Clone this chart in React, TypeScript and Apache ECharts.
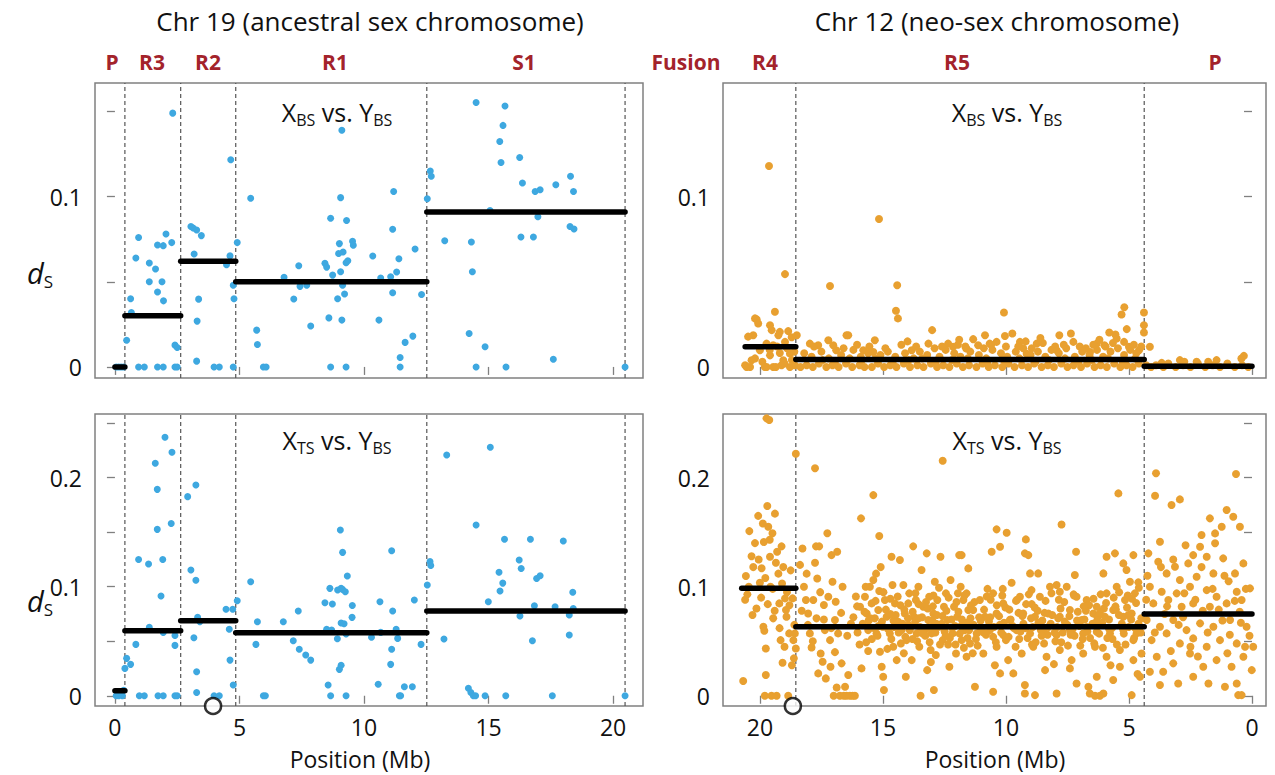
import React, { useEffect, useRef } from "react";
import * as echarts from "echarts";

// ---------- DATA ----------
// Chr 19, X_BS vs Y_BS (position Mb, dS)
const tlPoints: number[][] = [
  [0.05, 0], [0.15, 0], [0.25, 0], [0.35, 0],
  [0.47, 0.0157], [0.63, 0.04], [0.66, 0.032], [0.84, 0.064], [0.95, 0.076], [0.95, 0], [1.18, 0],
  [1.38, 0.061], [1.38, 0.05], [1.63, 0.0575], [1.71, 0.0716], [1.71, 0.044], [1.71, 0], [1.89, 0.05],
  [1.94, 0.0712], [1.95, 0.0388], [1.94, 0], [2.05, 0.078], [2.28, 0.073], [2.32, 0.149], [2.41, 0.0128],
  [2.5, 0.0114], [2.41, 0], [2.5, 0],
  [3.05, 0.0824], [3.14, 0.0816], [3.28, 0.0804], [3.47, 0.0771], [3.18, 0.0663], [3.3, 0.0269], [3.36, 0.0398],
  [3.28, 0.0034], [3.98, 0], [4.19, 0], [4.65, 0.1216], [4.48, 0.06], [4.62, 0.0652], [4.75, 0], [4.75, 0.048],
  [4.78, 0.04], [4.91, 0.073],
  [5.45, 0.099], [5.69, 0.0216], [5.72, 0.0132], [5.96, 0], [6.07, 0], [6.79, 0.0526], [7.18, 0.0399],
  [7.38, 0.0594], [7.43, 0.0473], [7.7, 0.048], [7.86, 0.024], [8.43, 0.0608], [8.5, 0.0586], [8.59, 0.0288],
  [8.66, 0], [8.66, 0.0873], [8.74, 0.0539], [9.01, 0.0724], [8.98, 0.0666], [9.06, 0.0559], [9.06, 0.0994],
  [9.11, 0.139], [9.11, 0.0275], [9.14, 0.048], [9.16, 0.0675], [9.22, 0.0428], [9.28, 0.0612], [9.28, 0],
  [9.3, 0.086], [8.94, 0.04], [9.35, 0.0623], [9.54, 0.0738], [9.57, 0.0714], [10.35, 0.0651], [10.6, 0.0275],
  [10.67, 0.0522], [11.07, 0.0529], [11.15, 0.0808], [11.19, 0.103], [11.15, 0.0436], [11.31, 0.0557],
  [11.4, 0.0635], [11.45, 0.0055], [11.45, 0], [11.65, 0.0144], [11.96, 0.0181], [12.05, 0.0692], [12.31, 0.0425],
  [12.54, 0.0987], [12.66, 0.115], [12.7, 0.112], [14.5, 0.1553], [15.66, 0.1532], [15.58, 0.1418],
  [15.45, 0.1324], [15.5, 0.12], [16.25, 0.123], [16.36, 0.108], [16.87, 0.103], [17.07, 0.104], [17.7, 0.107],
  [18.29, 0.112], [18.41, 0.103], [15.06, 0.0918], [16.98, 0.0882], [18.27, 0.0824], [18.43, 0.081],
  [13.24, 0.0741], [14.31, 0.0733], [16.3, 0.0763], [16.8, 0.0763], [14.35, 0.0559], [14.22, 0.0196],
  [14.86, 0.0118], [17.6, 0.0045], [14.5, 0], [15.7, 0], [20.48, 0],
];

// Chr 19, X_TS vs Y_BS
const blPoints: number[][] = [
  [0.05, 0], [0.15, 0], [0.3, 0], [0.35, 0.005],
  [0.4, 0.0251], [0.47, 0.0343], [0.63, 0.0288], [0.84, 0.0471], [0.95, 0.125], [0.98, 0], [1.18, 0],
  [1.35, 0.1208], [1.38, 0.0627], [1.62, 0.2132], [1.7, 0.1893], [1.7, 0.1526], [1.73, 0], [1.85, 0.0915],
  [1.92, 0.125], [1.94, 0.0581], [1.94, 0], [2.01, 0.237], [2.26, 0.158], [2.29, 0.2233], [2.41, 0.0553],
  [2.41, 0.0462], [2.41, 0], [2.5, 0],
  [2.92, 0.1826], [3.05, 0.1153], [3.25, 0.1933], [3.25, 0.106], [3.17, 0.0532], [3.32, 0.0719], [3.28, 0.022],
  [3.28, 0.003], [3.41, 0.068], [3.98, 0], [4.19, 0], [4.46, 0.0793], [4.59, 0.061], [4.62, 0.0327],
  [4.73, 0.0793], [4.75, 0.0098], [4.91, 0.0872],
  [5.45, 0.1046], [5.66, 0.0471], [5.72, 0.0679], [5.96, 0], [6.04, 0], [6.76, 0.0679], [7.16, 0.0505],
  [7.36, 0.0777], [7.4, 0.0426], [7.66, 0.0374], [7.86, 0.0327], [8.43, 0.0853], [8.63, 0.0985], [8.73, 0.0841],
  [8.56, 0.0098], [8.66, 0], [8.5, 0.061], [8.7, 0.0603], [8.93, 0.0523], [9.01, 0.0242], [9.08, 0.028],
  [8.94, 0.097], [9.08, 0.0985], [9.14, 0.0975], [9.05, 0.152], [9.14, 0.1315], [9.33, 0.1098], [9.25, 0.0953],
  [9.08, 0.0667], [9.2, 0.066], [9.28, 0.0566], [9.28, 0], [9.53, 0.0828], [9.52, 0.0719], [10.3, 0.0536],
  [10.57, 0.0106], [10.64, 0.0862], [10.67, 0.0581], [11.07, 0.0288], [11.11, 0.133], [11.15, 0.0777],
  [11.11, 0.0426], [11.29, 0.061], [11.35, 0.0526], [11.42, 0], [11.47, 0], [11.62, 0.0083], [11.94, 0.0083],
  [12.02, 0.0878], [12.29, 0.0471],
  [12.54, 0.1016], [12.65, 0.123], [12.68, 0.1194], [13.32, 0.2208], [15.07, 0.2279], [14.5, 0.1566],
  [15.64, 0.1435], [16.68, 0.1435], [18.0, 0.142], [16.23, 0.1245], [16.31, 0.1167], [15.42, 0.1132],
  [15.57, 0.1033], [15.46, 0.096], [16.93, 0.1075], [17.07, 0.11], [18.38, 0.095], [14.99, 0.0862],
  [16.84, 0.0826], [17.67, 0.0817], [18.4, 0.0801], [16.26, 0.0731], [18.24, 0.074], [13.21, 0.052],
  [18.24, 0.0557], [16.76, 0.0504], [14.19, 0.0068], [14.29, 0.003], [14.39, 0], [14.48, 0], [14.86, 0],
  [15.69, 0], [17.56, 0], [20.48, 0],
];

// Chr 12, X_BS vs Y_BS
const trPoints: number[][] = [
  [19.63, 0.118], [18.98, 0.0545], [19.39, 0.0324], [20.13, 0.0279], [17.15, 0.0475], [15.16, 0.0869],
  [14.42, 0.048], [14.47, 0.033], [14.39, 0.0285], [13.0, 0.0216], [16.41, 0.0186], [15.33, 0.0157],
  [10.08, 0.032], [5.19, 0.035], [5.3, 0.0308], [4.39, 0.032], [4.39, 0.0245], [4.39, 0.0202], [5.09, 0.0222],
  [5.8, 0.0202], [7.83, 0.0186], [7.36, 0.0196], [9.74, 0.0196], [10.04, 0.0182], [0.33, 0.0065], [2.93, 0.004],
  [20.2, 0.0285], [20.07, 0.0255], [19.59, 0.0245], [19.52, 0.0216], [19.19, 0.0206], [18.85, 0.021],
  [19.25, 0.0186], [20.27, 0.0186], [20.48, 0.0178], [18.71, 0.0174], [18.5, 0.0186], [19.73, 0.0137],
  [19.46, 0.0127], [18.98, 0.0147], [20.0, 0.0098], [19.19, 0.0082], [18.78, 0.0078], [19.59, 0.0068],
  [20.34, 0.0039], [19.05, 0.0039], [20.54, 0], [19.73, 0], [19.46, 0], [19.12, 0.001], [18.78, 0], [18.58, 0.001],
  [20.6, 0.001], [20.4, 0], [20.2, 0.005], [19.9, 0.003], [19.8, 0], [19.6, 0.01], [19.35, 0], [19.3, 0.012],
  [19.0, 0.002], [18.9, 0.011], [18.7, 0.004], [18.6, 0.009],
  [16.48, 0.0186], [17.22, 0.0157], [17.63, 0.0127], [17.02, 0.0127], [17.97, 0.0137], [16.9, 0.0098],
  [15.8, 0.0098], [15.39, 0.0088], [13.83, 0.0098], [13.15, 0.0137], [12.35, 0.0137], [12.15, 0.0118],
  [11.61, 0.0108], [11.13, 0.0127], [10.66, 0.0137], [11.33, 0.0163], [10.85, 0.0186],
  [10.38, 0.0147], [9.43, 0.0147], [8.75, 0.0137], [7.26, 0.0147], [6.31, 0.0137], [6.0, 0.0127], [5.5, 0.0167],
  [5.2, 0.0147], [5.0, 0.0118], [6.58, 0.0088], [7.94, 0.0098], [9.16, 0.0078], [4.59, 0.0098], [4.15, 0.0118],
  [18.35, 0], [18.1, 0.001], [17.85, 0], [17.6, 0.002], [17.3, 0], [17.05, 0.001], [16.8, 0], [16.5, 0.002],
  [16.25, 0], [15.95, 0.001], [15.75, 0], [15.45, 0], [15.2, 0.002], [14.95, 0], [14.7, 0.001], [14.45, 0],
  [14.15, 0.002], [13.9, 0], [13.6, 0.001], [13.35, 0], [13.05, 0.002], [12.8, 0], [12.55, 0.001], [12.3, 0],
  [12.0, 0.002], [11.75, 0], [11.5, 0.001], [11.2, 0], [10.95, 0.002], [10.7, 0], [10.45, 0.001], [10.15, 0],
  [9.9, 0.002], [9.65, 0], [9.35, 0.001], [9.1, 0], [8.85, 0.002], [8.55, 0], [8.3, 0.001], [8.05, 0],
  [7.75, 0.002], [7.5, 0], [7.25, 0.001], [6.95, 0], [6.7, 0.002], [6.4, 0], [6.15, 0.001], [5.9, 0],
  [5.6, 0.002], [5.35, 0], [5.1, 0.001], [4.85, 0], [4.6, 0.002],
  [18.2, 0.008], [17.9, 0.006], [17.5, 0.009], [17.2, 0.005], [16.7, 0.007], [16.2, 0.01], [15.9, 0.006],
  [15.6, 0.008], [15.1, 0.007], [14.8, 0.009], [14.5, 0.006], [14.1, 0.008], [13.75, 0.005], [13.5, 0.009],
  [13.2, 0.007], [12.7, 0.006], [12.45, 0.01], [12.1, 0.008], [11.85, 0.006], [11.45, 0.009], [11.1, 0.007],
  [10.8, 0.005], [10.55, 0.01], [10.2, 0.008], [9.95, 0.006], [9.6, 0.009], [9.3, 0.011], [9.0, 0.007],
  [8.7, 0.009], [8.4, 0.006], [8.15, 0.01], [7.85, 0.008], [7.55, 0.011], [7.2, 0.006], [6.9, 0.009],
  [6.6, 0.007], [6.3, 0.01], [6.05, 0.006], [5.75, 0.009], [5.45, 0.011], [5.2, 0.007], [4.95, 0.01],
  [4.7, 0.008], [4.5, 0.012],
  [17.8, 0.012], [16.6, 0.011], [16.05, 0.013], [15.55, 0.012], [14.9, 0.011], [14.25, 0.013], [13.65, 0.012],
  [12.9, 0.011], [12.6, 0.012], [11.95, 0.013], [11.65, 0.012], [10.9, 0.011], [10.6, 0.013], [10.0, 0.012],
  [9.5, 0.012], [8.95, 0.011], [8.5, 0.014], [8.0, 0.012], [7.65, 0.013], [7.0, 0.012], [6.75, 0.011],
  [6.45, 0.013], [5.95, 0.012], [5.65, 0.014], [4.8, 0.013],
  [3.67, 0.0024], [2.75, 0.003], [2.25, 0.003], [1.78, 0.003], [1.44, 0.004], [0.43, 0.0049],
  [4.3, 0.001], [4.1, 0], [3.9, 0.001], [3.6, 0], [3.4, 0.002], [3.1, 0], [2.8, 0.001], [2.5, 0], [2.2, 0.002],
  [1.9, 0], [1.6, 0.001], [1.3, 0], [1.0, 0.002], [0.7, 0], [0.4, 0.001], [0.15, 0],
  [17.45, 0.004], [16.95, 0.003], [16.35, 0.005], [15.85, 0.004], [15.3, 0.005], [14.6, 0.003], [13.95, 0.004],
  [13.4, 0.005], [12.85, 0.003], [12.2, 0.004], [11.55, 0.005], [10.75, 0.003], [10.1, 0.004], [9.45, 0.005],
  [8.8, 0.003], [8.25, 0.004], [7.6, 0.005], [7.05, 0.003], [6.5, 0.004], [5.85, 0.005], [5.25, 0.003],
  [4.75, 0.005], [5.55, 0.019], [6.2, 0.016], [8.6, 0.017], [9.2, 0.015], [11.9, 0.016], [14.0, 0.015],
];

// Chr 12, X_TS vs Y_BS
const brPoints: number[][] = [
  [19.73, 0.2544], [19.62, 0.2529], [20.68, 0.0135], [20.57, 0.1098], [20.51, 0.093], [20.43, 0.151],
  [20.34, 0.128], [20.27, 0.118], [20.14, 0.08], [20.07, 0.165], [20.0, 0.1037], [19.93, 0.117], [19.86, 0.0633],
  [19.84, 0.141], [19.82, 0.0596], [19.8, 0], [19.76, 0.0434], [19.76, 0.019], [19.7, 0.174], [19.66, 0.155],
  [19.59, 0.1275], [19.57, 0.1], [19.53, 0], [19.49, 0.149], [19.46, 0.071], [19.39, 0.167], [19.35, 0.122],
  [19.32, 0], [19.25, 0.112], [19.21, 0.0847], [19.16, 0.051], [19.12, 0.137], [19.08, 0.0303], [19.05, 0.118],
  [18.98, 0.0893], [18.94, 0.0786], [18.92, 0.0725], [18.85, 0], [18.81, 0.0572], [18.75, 0.115],
  [18.67, 0.0893], [18.64, 0.051], [18.62, 0.0343], [18.58, 0.0572], [18.54, 0.222], [18.54, 0.0434],
  [20.6, 0.088], [20.45, 0.1], [20.3, 0.074], [20.2, 0.14], [20.05, 0.125], [19.95, 0.09], [19.88, 0.158],
  [19.78, 0.108], [19.68, 0.084], [19.6, 0.143], [19.48, 0.098], [19.4, 0.078], [19.3, 0.132], [19.2, 0.062],
  [19.1, 0.103], [19.0, 0.045], [18.9, 0.095], [18.8, 0.083], [18.7, 0.028], [18.6, 0.065],
  [17.76, 0.2086], [15.89, 0.1627], [15.39, 0.184], [15.15, 0.1465], [12.57, 0.2156],
  [18.37, 0.12], [18.27, 0.135], [18.21, 0.1], [18.13, 0.0878], [18.1, 0.112], [18.04, 0.0755], [17.97, 0.0572],
  [17.9, 0.0443], [17.83, 0.0878], [17.76, 0.122], [17.72, 0.137], [17.7, 0.071], [17.67, 0.1076],
  [17.63, 0.0205], [17.59, 0.137], [17.53, 0.0388], [17.45, 0.0312], [17.4, 0.0832], [17.36, 0.0602],
  [17.32, 0.0159], [17.26, 0.149], [17.22, 0.0908], [17.15, 0.051], [17.13, 0.0266], [17.09, 0.129],
  [17.05, 0.1046], [17.0, 0], [16.95, 0.0694], [16.92, 0.0862], [16.88, 0.0076], [16.86, 0.132], [16.82, 0.0572],
  [16.75, 0], [16.68, 0.0297], [16.64, 0.1], [16.59, 0], [16.54, 0.0083], [16.48, 0], [16.41, 0.019],
  [16.34, 0], [16.23, 0], [16.14, 0], [15.93, 0.0817], [15.87, 0.0251], [15.73, 0.0908], [15.66, 0.0755],
  [15.6, 0.0602], [15.53, 0.1], [15.46, 0.0847], [15.39, 0.1061], [15.33, 0.071], [15.28, 0.112],
  [15.26, 0.0572], [15.19, 0.0786], [15.12, 0.0404], [15.09, 0.118], [15.05, 0.0266], [15.01, 0.0633],
  [14.99, 0.0174], [14.96, 0.0052], [14.92, 0.0878], [14.85, 0.0725], [14.72, 0.0572], [14.65, 0.1275],
  [14.61, 0.1015], [14.58, 0.045], [14.51, 0.0847], [14.44, 0.0327], [14.38, 0.0679], [14.31, 0.1245],
  [14.24, 0.0602], [14.17, 0.1015], [14.11, 0.0755], [14.07, 0.0174], [14.04, 0.051], [13.97, 0.0847],
  [13.93, 0.0939], [13.88, 0.0633], [13.83, 0.0327], [13.77, 0.137], [13.74, 0.0725], [13.66, 0.0878],
  [13.63, 0.0572], [13.56, 0.1], [13.52, 0.045], [13.47, 0], [13.43, 0.1153], [13.36, 0.0817], [13.29, 0.0602],
  [13.22, 0.1306], [13.2, 0.0235], [13.16, 0.0694], [13.12, 0.0908], [13.06, 0.0419], [13.02, 0.0572],
  [12.95, 0.0755], [12.93, 0.0052], [12.89, 0.1046], [12.85, 0.0373], [12.79, 0.0878], [12.71, 0.0633],
  [12.66, 0.1275], [12.57, 0.051], [12.52, 0.0817], [12.44, 0.0939], [12.38, 0.0694], [12.3, 0.0266],
  [12.25, 0.1061], [12.17, 0.0572], [12.11, 0.0817], [12.03, 0.0388], [11.98, 0.0725], [11.9, 0.129],
  [11.84, 0.1], [11.8, 0.051], [11.73, 0.0878], [11.67, 0.0602], [11.6, 0.0358], [11.53, 0.0786],
  [5.43, 0.1856], [7.74, 0.157], [10.38, 0.1526], [9.97, 0.1495], [9.19, 0.1434], [10.58, 0.132],
  [10.24, 0.1367], [9.23, 0.1306], [9.09, 0.129], [7.15, 0.132], [5.91, 0.1275], [5.57, 0.1306], [4.82, 0.129],
  [5.23, 0.1214], [11.8, 0.129], [11.53, 0.1168], [9.02, 0.1122], [8.69, 0.1122], [9.77, 0.1037], [7.94, 0.1015],
  [7.2, 0.1107], [6.04, 0.1122], [5.1, 0.1153], [4.96, 0.1046], [11.6, 0.0939], [11.06, 0.0878], [10.52, 0.0939],
  [10.11, 0.0847], [9.43, 0.0908], [8.96, 0.0969], [8.62, 0.0908], [8.21, 0.1], [7.81, 0.0954], [7.53, 0.1],
  [7.13, 0.0908], [6.72, 0.0878], [6.31, 0.0817], [5.91, 0.0939], [5.5, 0.1], [5.16, 0.0878], [4.76, 0.0939],
  [11.33, 0.0786], [10.85, 0.0725], [10.38, 0.0755], [9.84, 0.0694], [9.3, 0.0755], [8.82, 0.0725],
  [8.28, 0.0755], [7.81, 0.0725], [7.4, 0.0786], [6.92, 0.0694], [6.45, 0.0755], [5.98, 0.0725], [5.64, 0.0786],
  [5.23, 0.0725], [4.89, 0.0755],
  [11.73, 0.0602], [11.19, 0.0572], [10.65, 0.0602], [10.11, 0.0557], [9.57, 0.0602], [9.02, 0.0572],
  [8.48, 0.0587], [7.94, 0.0557], [7.4, 0.0602], [6.86, 0.0572], [6.31, 0.0587], [5.77, 0.0572], [5.23, 0.0602],
  [4.69, 0.0572],
  [11.46, 0.048], [10.92, 0.0388], [10.38, 0.045], [9.91, 0.0327], [9.36, 0.0388], [8.89, 0.045], [8.35, 0.0358],
  [7.81, 0.0419], [7.33, 0.0327], [6.86, 0.0388], [6.38, 0.045], [5.91, 0.0358], [5.37, 0.0419], [4.82, 0.0327],
  [11.26, 0.0083], [10.52, 0.0037], [10.24, 0.0205], [9.7, 0.0205], [9.23, 0.0098], [9.23, 0.0021],
  [8.82, 0.0006], [8.41, 0.0235], [7.94, 0.0021], [7.4, 0.0251], [7.13, 0.0113], [6.65, 0.0083], [6.59, 0.0021],
  [6.38, 0], [6.18, 0], [6.04, 0.0021], [5.64, 0.0144], [5.37, 0.0266], [4.89, 0.0006], [4.55, 0.0174],
  [4.49, 0.0388], [4.82, 0.051], [6.31, 0.0174],
  [16.2, 0.072], [16.03, 0.058], [15.82, 0.066], [15.68, 0.049], [15.51, 0.071], [15.37, 0.062], [15.22, 0.055],
  [15.04, 0.068], [14.88, 0.079], [14.79, 0.061], [14.66, 0.052], [14.57, 0.069], [14.48, 0.074], [14.36, 0.058],
  [14.29, 0.083], [14.2, 0.066], [14.09, 0.054], [13.98, 0.071], [13.91, 0.06], [13.79, 0.077], [13.69, 0.068],
  [13.61, 0.05], [13.49, 0.063], [13.41, 0.072], [13.28, 0.055], [13.18, 0.08], [13.08, 0.062], [12.99, 0.069],
  [12.87, 0.058], [12.81, 0.074], [12.68, 0.047], [12.61, 0.066], [12.49, 0.059], [12.42, 0.078], [12.28, 0.053],
  [12.21, 0.07], [12.07, 0.064], [12.01, 0.086], [11.88, 0.057], [11.79, 0.07], [11.71, 0.044], [11.58, 0.067],
  [11.5, 0.06], [11.42, 0.083], [11.31, 0.065], [11.22, 0.052], [11.09, 0.072], [11.01, 0.061], [10.89, 0.079],
  [10.81, 0.056], [10.69, 0.068], [10.62, 0.088], [10.49, 0.063], [10.41, 0.049], [10.28, 0.073], [10.19, 0.058],
  [10.08, 0.067], [10.02, 0.081], [9.89, 0.054], [9.81, 0.07], [9.68, 0.062], [9.61, 0.045], [9.49, 0.076],
  [9.41, 0.059], [9.29, 0.066], [9.18, 0.084], [9.12, 0.053], [8.98, 0.071], [8.91, 0.063], [8.79, 0.049],
  [8.71, 0.078], [8.58, 0.06], [8.52, 0.069], [8.39, 0.087], [8.31, 0.056], [8.18, 0.066], [8.12, 0.074],
  [7.99, 0.05], [7.92, 0.063], [7.78, 0.08], [7.69, 0.058], [7.61, 0.068], [7.48, 0.046], [7.42, 0.073],
  [7.29, 0.061], [7.21, 0.055], [7.08, 0.077], [7.01, 0.064], [6.88, 0.052], [6.81, 0.07], [6.69, 0.059],
  [6.62, 0.083], [6.48, 0.066], [6.41, 0.048], [6.28, 0.072], [6.21, 0.057], [6.09, 0.067], [6.02, 0.08],
  [5.88, 0.053], [5.81, 0.07], [5.69, 0.062], [5.62, 0.09], [5.49, 0.047], [5.41, 0.074], [5.29, 0.066],
  [5.21, 0.057], [5.08, 0.081], [5.01, 0.063], [4.91, 0.07], [4.79, 0.053], [4.71, 0.085], [4.61, 0.066],
  [4.52, 0.058],
  [16.1, 0.091], [15.75, 0.077], [15.15, 0.096], [14.7, 0.089], [14.15, 0.039], [13.55, 0.084], [12.95, 0.092],
  [12.35, 0.047], [11.95, 0.094], [11.35, 0.039], [10.75, 0.098], [10.15, 0.092], [9.55, 0.088], [8.95, 0.084],
  [8.45, 0.048], [7.85, 0.088], [7.25, 0.093], [6.75, 0.078], [6.15, 0.093], [5.55, 0.082], [5.05, 0.092],
  [4.6, 0.099], [15.6, 0.041], [13.05, 0.031], [10.45, 0.028], [8.05, 0.029], [5.75, 0.028], [4.65, 0.02],
  [18.3, 0.078], [18.05, 0.065], [17.85, 0.05], [17.55, 0.095], [17.4, 0.07], [17.1, 0.062], [16.95, 0.04],
  [16.7, 0.076], [16.45, 0.055], [16.3, 0.066], [16.05, 0.082], [15.95, 0.047], [15.7, 0.1], [15.58, 0.069],
  [15.45, 0.052], [15.3, 0.087], [15.18, 0.064], [14.98, 0.095], [14.82, 0.043], [14.7, 0.075], [14.55, 0.063],
  [14.4, 0.091], [14.27, 0.048], [14.13, 0.079], [13.95, 0.065], [13.8, 0.052], [13.68, 0.094], [13.55, 0.071],
  [13.38, 0.057], [13.25, 0.086], [13.1, 0.049], [12.97, 0.082], [12.83, 0.066], [12.72, 0.099], [12.58, 0.073],
  [12.45, 0.055], [12.33, 0.09], [12.18, 0.062], [12.05, 0.047], [11.93, 0.077], [11.82, 0.064], [11.69, 0.092],
  [11.56, 0.053], [11.44, 0.071], [11.28, 0.086], [11.15, 0.046], [11.03, 0.069], [10.91, 0.058], [10.78, 0.091],
  [10.64, 0.072], [10.52, 0.054], [10.37, 0.083], [10.25, 0.065], [10.13, 0.098], [10.0, 0.051], [9.86, 0.079],
  [9.73, 0.064], [9.59, 0.087], [9.46, 0.052], [9.33, 0.073], [9.21, 0.062], [9.07, 0.093], [8.94, 0.047],
  [8.83, 0.081], [8.68, 0.067], [8.55, 0.055], [8.43, 0.076], [8.27, 0.063], [8.15, 0.094], [8.02, 0.058],
  [7.88, 0.071], [7.75, 0.049], [7.63, 0.086], [7.5, 0.065], [7.37, 0.056], [7.23, 0.092], [7.11, 0.069],
  [6.98, 0.046], [6.84, 0.082], [6.71, 0.063], [6.58, 0.053], [6.44, 0.089], [6.32, 0.068], [6.18, 0.076],
  [6.06, 0.044], [5.93, 0.085], [5.8, 0.061], [5.67, 0.052], [5.53, 0.079], [5.4, 0.095], [5.27, 0.063],
  [5.14, 0.047], [5.02, 0.074], [4.88, 0.089], [4.75, 0.062], [4.62, 0.104], [4.5, 0.071],
  [3.9, 0.204], [0.65, 0.2034], [3.94, 0.1835], [3.27, 0.1749], [2.93, 0.1801], [1.71, 0.1627], [1.03, 0.1703],
  [0.76, 0.1642], [0.49, 0.155], [1.23, 0.155], [3.74, 0.1413], [2.05, 0.1474], [1.5, 0.1489], [2.11, 0.1367],
  [1.5, 0.1398], [2.39, 0.129], [1.84, 0.1275], [1.17, 0.126], [0.35, 0.1214], [4.21, 0.1306], [3.81, 0.1229],
  [3.13, 0.1183], [2.59, 0.1214], [3.47, 0.1122], [2.93, 0.1061], [2.25, 0.1092], [1.57, 0.1122], [0.69, 0.1122],
  [4.15, 0.1], [3.67, 0.0954], [3.06, 0.0939], [2.52, 0.1], [1.84, 0.0969], [1.44, 0.0908], [0.62, 0.0954],
  [0.08, 0.0985], [4.01, 0.0847], [3.4, 0.0878], [2.86, 0.0817], [2.39, 0.0847], [1.71, 0.0817], [1.03, 0.0847],
  [0.42, 0.0878], [4.28, 0.0694], [3.74, 0.0633], [3.2, 0.0694], [2.66, 0.0602], [2.11, 0.0664], [1.57, 0.0633],
  [0.89, 0.0694], [0.22, 0.0633], [4.08, 0.051], [3.47, 0.0572], [2.93, 0.048], [2.39, 0.0526], [1.84, 0.045],
  [1.3, 0.051], [0.62, 0.048], [0.28, 0.045], [3.87, 0.0358], [3.2, 0.0297], [2.52, 0.0388], [1.98, 0.0266],
  [1.44, 0.0327], [0.83, 0.0266], [0.35, 0.0358], [4.15, 0.022], [3.61, 0.022], [3.0, 0.0113], [3.74, 0.0098],
  [2.39, 0.0174], [1.77, 0.0113], [1.1, 0.0083], [0.62, 0.0113], [0.56, 0.0006], [0.42, 0.0006], [0.01, 0.0235],
  [-0.05, 0.045], [3.55, 0.075], [2.8, 0.072], [2.0, 0.078], [1.2, 0.069], [0.5, 0.077], [3.3, 0.041],
  [2.2, 0.036], [1.0, 0.039], [4.3, 0.088], [0.95, 0.105], [2.7, 0.138],
  [4.25, 0.11], [3.95, 0.058], [3.7, 0.118], [3.45, 0.082], [3.2, 0.125], [2.98, 0.065], [2.75, 0.094],
  [2.5, 0.045], [2.3, 0.088], [2.05, 0.118], [1.8, 0.058], [1.6, 0.098], [1.35, 0.079], [1.12, 0.11],
  [0.9, 0.056], [0.7, 0.087], [0.45, 0.067], [0.25, 0.098], [0.1, 0.055],
];

// Region boundaries (Mb)
const leftBounds = [0.4, 2.64, 4.85, 12.52, 20.48];
const rightBounds = [18.54, 4.38];

// Mean dS per region: [start, end, value]
const tlMeans = [[0, 0.4, 0], [0.4, 2.64, 0.03], [2.64, 4.85, 0.062], [4.85, 12.52, 0.05], [12.52, 20.48, 0.091]];
const blMeans = [[0, 0.4, 0.0046], [0.4, 2.64, 0.0596], [2.64, 4.85, 0.0688], [4.85, 12.52, 0.0578], [12.52, 20.48, 0.0777]];
const trMeans = [[20.6, 18.54, 0.0118], [18.54, 4.38, 0.0043], [4.38, 0, 0.0004]];
const brMeans = [[20.74, 18.54, 0.0985], [18.54, 4.38, 0.0633], [4.38, 0, 0.075]];

// Open circles on the x axis (Mb)
const leftCircle = [3.94];
const rightCircle = [18.66];

const xTicks = [0, 5, 10, 15, 20];
const yTicksTop = [0, 0.05, 0.1, 0.15];
const yLabelsTop = [0, 0.1];
const yTicksBottom = [0, 0.05, 0.1, 0.15, 0.2, 0.25];
const yLabelsBottom = [0, 0.1, 0.2];

const leftRegions = ["P", "R3", "R2", "R1", "S1"];
const rightRegions = ["Fusion", "R4", "R5", "P"];

// ---------- STYLE ----------
const FONT = "'Open Sans', 'Noto Sans', sans-serif";
const BLUE = "#3ea8e0";
const ORANGE = "#e8a030";
const RED = "#a3232b";
const AXIS = "#808080";

const X_LEFT = { min: -0.8, max: 21.2 };
const X_RIGHT = { min: -0.57, max: 21.5 };
const Y_TOP = { min: -0.0065, max: 0.1667 };
const Y_BOT = { min: -0.0094, max: 0.2584 };

export default function App() {
  const ref = useRef<HTMLDivElement>(null);

  useEffect(() => {
    if (!ref.current) return;
    const chart = echarts.init(ref.current, null, { renderer: "svg" });

    const grids = [
      { left: 95, top: 83, width: 548, height: 295 },
      { left: 723, top: 83, width: 543, height: 295 },
      { left: 95, top: 414, width: 548, height: 292 },
      { left: 723, top: 414, width: 543, height: 292 },
    ].map((g) => ({ ...g, show: true, borderColor: AXIS, borderWidth: 1.5, backgroundColor: "transparent" }));

    const mkX = (i: number, range: any, inverse: boolean, showLabels: boolean) => ({
      type: "value",
      gridIndex: i,
      min: range.min,
      max: range.max,
      inverse,
      splitLine: { show: false },
      axisLine: { show: false },
      axisTick: { show: true, length: 8, lineStyle: { color: AXIS, width: 1.3 }, customValues: xTicks },
      axisLabel: {
        show: showLabels,
        customValues: xTicks,
        fontSize: 23,
        fontFamily: FONT,
        color: "#111",
        margin: 9,
      },
    });

    const mkY = (i: number, range: any, ticks: number[], labels: number[]) => ({
      type: "value",
      gridIndex: i,
      min: range.min,
      max: range.max,
      splitLine: { show: false },
      axisLine: { show: false },
      axisTick: { show: true, length: 8, lineStyle: { color: AXIS, width: 1.3 }, customValues: ticks },
      axisLabel: {
        customValues: labels,
        fontSize: 23,
        fontFamily: FONT,
        color: "#111",
        margin: 13,
        formatter: (v: number) => (v === 0 ? "0" : String(Math.round(v * 100) / 100)),
      },
    });

    const series: any[] = [];

    const panels = [
      { idx: 0, pts: tlPoints, means: tlMeans, bounds: leftBounds, y: Y_TOP, color: BLUE, size: 7 },
      { idx: 1, pts: trPoints, means: trMeans, bounds: rightBounds, y: Y_TOP, color: ORANGE, size: 8 },
      { idx: 2, pts: blPoints, means: blMeans, bounds: leftBounds, y: Y_BOT, color: BLUE, size: 7 },
      { idx: 3, pts: brPoints, means: brMeans, bounds: rightBounds, y: Y_BOT, color: ORANGE, size: 8 },
    ];

    panels.forEach((p) => {
      p.bounds.forEach((b) => {
        series.push({
          type: "line",
          xAxisIndex: p.idx,
          yAxisIndex: p.idx,
          data: [[b, p.y.min], [b, p.y.max]],
          symbol: "none",
          silent: true,
          lineStyle: { color: "#555", width: 1.2, type: [4, 3] },
          z: 1,
        });
      });
      series.push({
        type: "scatter",
        xAxisIndex: p.idx,
        yAxisIndex: p.idx,
        data: p.pts,
        symbolSize: p.size,
        itemStyle: { color: p.color, opacity: 1 },
        z: 2,
      });
      p.means.forEach((m) => {
        series.push({
          type: "line",
          xAxisIndex: p.idx,
          yAxisIndex: p.idx,
          data: [[m[0], m[2]], [m[1], m[2]]],
          symbol: "none",
          silent: true,
          lineStyle: { color: "#000", width: 5.5, cap: "round" },
          z: 3,
        });
      });
    });

    series.push({
      type: "scatter",
      xAxisIndex: 2,
      yAxisIndex: 2,
      data: leftCircle.map((x) => [x, Y_BOT.min]),
      symbol: "circle",
      symbolSize: 16,
      clip: false,
      itemStyle: { color: "#fff", borderColor: "#000", borderWidth: 2.5 },
      z: 5,
    });
    series.push({
      type: "scatter",
      xAxisIndex: 3,
      yAxisIndex: 3,
      data: rightCircle.map((x) => [x, Y_BOT.min]),
      symbol: "circle",
      symbolSize: 16,
      clip: false,
      itemStyle: { color: "#fff", borderColor: "#000", borderWidth: 2.5 },
      z: 5,
    });

    const txt = (text: string, x: number, y: number, size: number, extra: any = {}) => ({
      type: "text",
      x,
      y,
      silent: true,
      style: {
        text,
        fontSize: size,
        fontFamily: FONT,
        fill: "#111",
        align: "center",
        verticalAlign: "middle",
        ...extra,
      },
    });

    const richLabel = (main1: string, sub1: string, main2: string, sub2: string, x: number, y: number) => ({
      type: "text",
      x,
      y,
      silent: true,
      style: {
        text: `{m|${main1}}{s|${sub1}}{m|${main2}}{s|${sub2}}`,
        align: "center",
        verticalAlign: "middle",
        rich: {
          m: { fontSize: 25, fontFamily: FONT, fill: "#111", lineHeight: 32, verticalAlign: "middle" },
          s: { fontSize: 16, fontFamily: FONT, fill: "#111", lineHeight: 16, verticalAlign: "bottom" },
        },
      },
    });

    const dsLabel = (x: number, y: number) => ({
      type: "text",
      x,
      y,
      silent: true,
      style: {
        text: "{d|d}{s|S}",
        align: "center",
        verticalAlign: "middle",
        rich: {
          d: { fontSize: 29, fontStyle: "italic", fontFamily: FONT, fill: "#111", lineHeight: 36, verticalAlign: "middle" },
          s: { fontSize: 17, fontFamily: FONT, fill: "#111", lineHeight: 17, verticalAlign: "bottom" },
        },
      },
    });

    const leftRegionX = [112, 152, 208, 335, 524];
    const rightRegionX = [686, 765, 957, 1215];
    const regionStyle = { fill: RED, fontWeight: "bold" };

    const graphic: any[] = [
      txt("Chr 19 (ancestral sex chromosome)", 370, 21, 26),
      txt("Chr 12 (neo-sex chromosome)", 997, 21, 26),
      ...leftRegions.map((r, i) => txt(r, leftRegionX[i], 62, 21, regionStyle)),
      ...rightRegions.map((r, i) => txt(r, rightRegionX[i], 62, 21, regionStyle)),
      richLabel("X", "BS", " vs. Y", "BS", 337, 112),
      richLabel("X", "BS", " vs. Y", "BS", 1007, 112),
      richLabel("X", "TS", " vs. Y", "BS", 337, 440),
      richLabel("X", "TS", " vs. Y", "BS", 1007, 440),
      dsLabel(40, 272),
      dsLabel(40, 600),
      txt("Position (Mb)", 360, 759, 23),
      txt("Position (Mb)", 995, 759, 23),
    ];

    chart.setOption({
      animation: false,
      backgroundColor: "#fff",
      grid: grids,
      xAxis: [
        mkX(0, X_LEFT, false, false),
        mkX(1, X_RIGHT, true, false),
        mkX(2, X_LEFT, false, true),
        mkX(3, X_RIGHT, true, true),
      ],
      yAxis: [
        mkY(0, Y_TOP, yTicksTop, yLabelsTop),
        mkY(1, Y_TOP, yTicksTop, yLabelsTop),
        mkY(2, Y_BOT, yTicksBottom, yLabelsBottom),
        mkY(3, Y_BOT, yTicksBottom, yLabelsBottom),
      ],
      series,
      graphic,
    });

    return () => chart.dispose();
  }, []);

  return (
    <div
      ref={ref}
      style={{ position: "absolute", left: 0, top: 0, width: 1275, height: 775, background: "#fff" }}
    />
  );
}
